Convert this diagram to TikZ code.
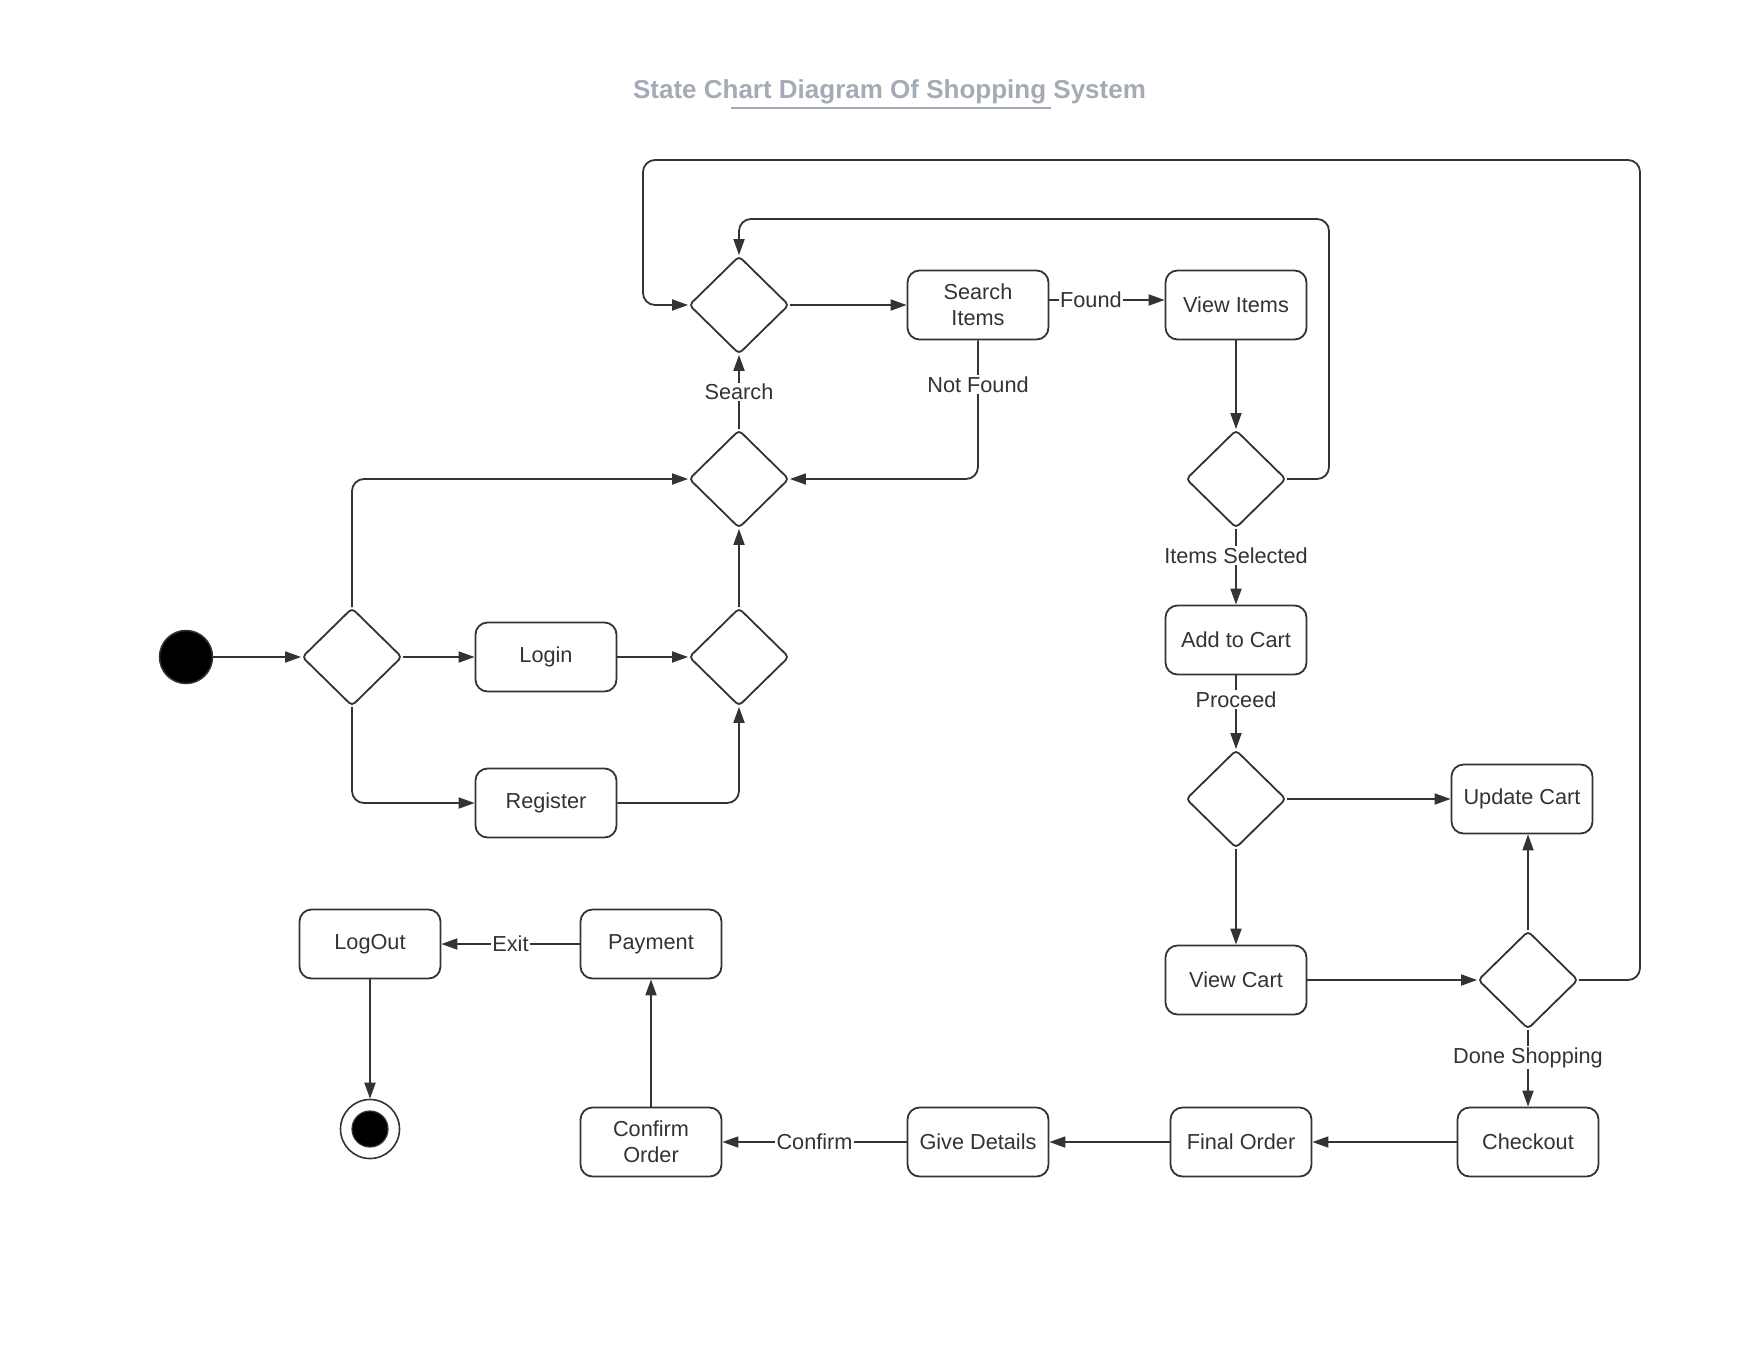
\documentclass[tikz,border=0pt]{standalone}
\usepackage{fontspec}
\setmainfont{Liberation Sans}
\usetikzlibrary{shapes.geometric,arrows.meta}
\definecolor{lc}{RGB}{51,51,51}
\definecolor{titlec}{RGB}{165,171,182}
\newcommand{\nfont}{\fontsize{21.7}{26}\selectfont}
\tikzset{
  base/.style={line width=1.8pt, draw=lc, text=lc},
  box/.style={base, rectangle, rounded corners=12pt, minimum width=141pt, minimum height=69pt, inner sep=2pt, align=center, font=\nfont, fill=white},
  dia/.style={base, diamond, rounded corners=4pt, minimum width=100pt, minimum height=98pt, inner sep=0pt, fill=white},
  arr/.style={line width=1.8pt, draw=lc, rounded corners=12pt, -{Triangle[length=16pt,width=11pt]}},
  lbl/.style={fill=white, text=lc, font=\nfont, inner sep=1.5pt, rounded corners=0pt},
}
\begin{document}
\begin{tikzpicture}[x=1pt,y=-1pt]
\fill[white] (0,0) rectangle (1760,1360);
\useasboundingbox (0,0) rectangle (1760,1360);
% title
\node[text=titlec, font=\fontsize{26}{31}\bfseries\selectfont, anchor=base] (title) at (889.5,98) {State Chart Diagram Of Shopping System};
\draw[titlec, line width=1.8pt] (731,108) -- (1051,108);
% nodes
\node[circle, fill=black, draw=lc, line width=1.5pt, minimum size=53pt, inner sep=0pt] (init) at (186,657) {};
\node[dia] (d1) at (352,657) {};
\node[box] (login) at (546,657) {Login};
\node[box] (register) at (546,803) {Register};
\node[dia] (d2) at (739,657) {};
\node[dia] (d3) at (739,479) {};
\node[dia] (d4) at (739,305) {};
\node[box] (search) at (978,305) {Search\\Items};
\node[box] (viewitems) at (1236,305) {View Items};
\node[dia] (d5) at (1236,479) {};
\node[box] (addcart) at (1236,640) {Add to Cart};
\node[dia] (d6) at (1236,799) {};
\node[box] (updatecart) at (1522,799) {Update Cart};
\node[box] (viewcart) at (1236,980) {View Cart};
\node[dia] (d7) at (1528,980) {};
\node[box] (checkout) at (1528,1142) {Checkout};
\node[box] (finalorder) at (1241,1142) {Final Order};
\node[box] (givedetails) at (978,1142) {Give Details};
\node[box] (confirmorder) at (651,1142) {Confirm\\Order};
\node[box] (payment) at (651,944) {Payment};
\node[box] (logout) at (370,944) {LogOut};
\node[circle, draw=lc, line width=1.6pt, fill=white, minimum size=59pt, inner sep=0pt] (final) at (370,1129) {};
\node[circle, fill=black, draw=lc, line width=1.2pt, minimum size=36pt, inner sep=0pt] (finalin) at (final.center) {};
% waypoints
\coordinate (loopA) at (1329,219);
\coordinate (loopB) at (1640,160);
\coordinate (loopC) at (643,305);
% connectors
\draw[arr] (init) -- (d1.west);
\draw[arr] (d1.east) -- (login.west);
\draw[arr] (d1.north) |- (d3.west);
\draw[arr] (d1.south) |- (register.west);
\draw[arr] (login.east) -- (d2.west);
\draw[arr] (register.east) -| (d2.south);
\draw[arr] (d2.north) -- (d3.south);
\draw[arr] (d3.north) -- node[lbl]{Search} (d4.south);
\draw[arr] (d4.east) -- (search.west);
\draw[arr] ([yshift=5pt]search.east) -- node[lbl, pos=0.36]{Found} ([yshift=5pt]viewitems.west);
\draw[arr] (search.south) |- node[lbl, pos=0.16]{Not Found} (d3.east);
\draw[arr] (viewitems.south) -- (d5.north);
\draw[arr] (d5.east) -| (loopA) -| (d4.north);
\draw[arr] (d5.south) -- node[lbl, pos=0.35]{Items Selected} (addcart.north);
\draw[arr] (addcart.south) -- node[lbl, pos=0.33]{Proceed} (d6.north);
\draw[arr] (d6.east) -- (updatecart.west);
\draw[arr] (d6.south) -- (viewcart.north);
\draw[arr] (viewcart.east) -- (d7.west);
\draw[arr] (d7.north) -- (d7.north |- updatecart.south);
\draw[arr] (d7.east) -| (loopB) -| (loopC) -- (d4.west);
\draw[arr] (d7.south) -- node[lbl, pos=0.36]{Done Shopping} (checkout.north);
\draw[arr] (checkout.west) -- (finalorder.east);
\draw[arr] (finalorder.west) -- (givedetails.east);
\draw[arr] (givedetails.west) -- node[lbl]{Confirm} (confirmorder.east);
\draw[arr] (confirmorder.north) -- (payment.south);
\draw[arr] (payment.west) -- node[lbl]{Exit} (logout.east);
\draw[arr] (logout.south) -- (final.north);
\end{tikzpicture}
\end{document}
